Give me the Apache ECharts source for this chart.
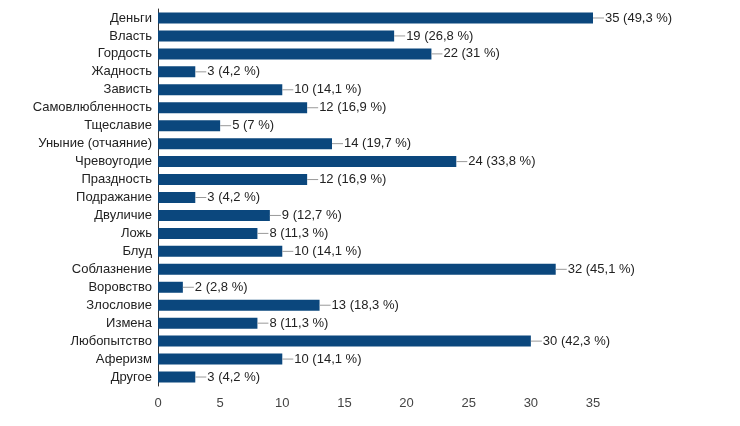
<!DOCTYPE html>
<html><head><meta charset="utf-8">
<script src="https://cdn.jsdelivr.net/npm/echarts@6/dist/echarts.min.js"></script>
<style>html,body{margin:0;padding:0;background:#fff}#c{width:740px;height:426px}</style>
</head><body><div id="c"></div>
<script>
var categories = ['Деньги','Власть','Гордость','Жадность','Зависть','Самовлюбленность','Тщеславие','Уныние (отчаяние)','Чревоугодие','Праздность','Подражание','Двуличие','Ложь','Блуд','Соблазнение','Воровство','Злословие','Измена','Любопытство','Аферизм','Другое'];
var counts = [35,19,22,3,10,12,5,14,24,12,3,9,8,10,32,2,13,8,30,10,3];
var percents = ['49,3','26,8','31','4,2','14,1','16,9','7','19,7','33,8','16,9','4,2','12,7','11,3','14,1','45,1','2,8','18,3','11,3','42,3','14,1','4,2'];
var xTicks = [0,5,10,15,20,25,30,35];

var chart = echarts.init(document.getElementById('c'), null, {renderer:'canvas'});
chart.setOption({
  animation:false,
  grid:{left:158,right:147,top:9,bottom:40,containLabel:false},
  xAxis:{type:'value',min:0,max:35,interval:5,
    axisLine:{show:false},axisTick:{show:false},splitLine:{show:false},
    axisLabel:{color:'#444',fontSize:13,fontFamily:'Liberation Sans, Arial',margin:11,
      formatter:function(v){return xTicks.indexOf(v)>=0?String(v):'';}}},
  yAxis:{type:'category',data:categories,inverse:true,
    axisLine:{show:true,lineStyle:{color:'#333',width:1}},axisTick:{show:false},
    axisLabel:{color:'#222',fontSize:13,fontFamily:'Liberation Sans, Arial',margin:6}},
  series:[{type:'bar',data:counts,barWidth:11,itemStyle:{color:'#0b477d'},
    label:{show:true,position:'right',distance:0,
      formatter:function(p){return '{l|}{t|'+counts[p.dataIndex]+' ('+percents[p.dataIndex]+' %)}';},
      rich:{l:{width:11,height:1,backgroundColor:'#999'},
            t:{color:'#222',fontSize:13,fontFamily:'Liberation Sans, Arial',padding:[0,0,0,1]}}}}]
});
</script></body></html>
